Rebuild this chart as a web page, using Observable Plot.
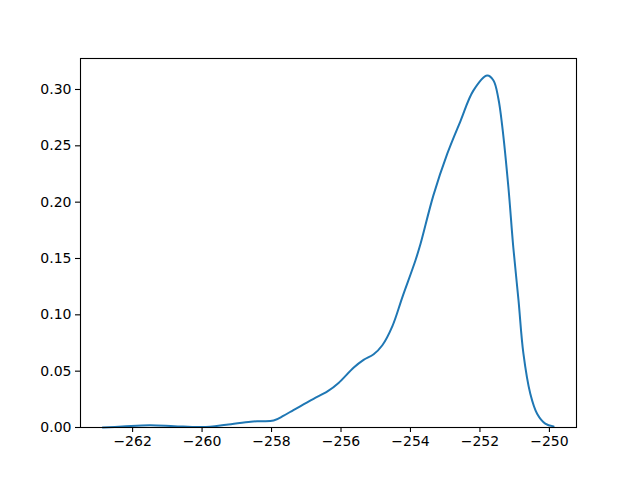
<!DOCTYPE html>
<html>
<head>
<meta charset="utf-8">
<script src="https://cdn.jsdelivr.net/npm/d3@7"></script>
<script src="https://cdn.jsdelivr.net/npm/@observablehq/plot@0.6"></script>
<style>
  body { margin: 0; background: white; }
  #chart { width: 640px; height: 480px; }
</style>
</head>
<body>
<div id="chart"></div>
<script>
const xs = [-262.86, -262.3, -261.51, -260.8, -259.99, -259.3, -258.6, -258.32, -257.94, -257.65, -257.37, -257.08, -256.79, -256.39, -256.07, -255.64, -255.35, -255.06, -254.81, -254.52, -254.23, -253.86, -253.71, -253.34, -252.94, -252.56, -252.19, -251.79, -251.61, -251.47, -251.36, -251.18, -251.04, -250.89, -250.75, -250.55, -250.35, -250.12, -249.88];
const densities = [0.0, 0.0008, 0.002, 0.0012, 0.0004, 0.0025, 0.0052, 0.0056, 0.0062, 0.0105, 0.0155, 0.0205, 0.0255, 0.032, 0.0395, 0.053, 0.060, 0.065, 0.073, 0.09, 0.116, 0.148, 0.163, 0.206, 0.243, 0.272, 0.299, 0.3124, 0.308, 0.292, 0.268, 0.213, 0.16, 0.113, 0.066, 0.030, 0.012, 0.0035, 0.001];
const xTicks = [-262, -260, -258, -256, -254, -252, -250];
const yTicks = [0, 0.05, 0.10, 0.15, 0.20, 0.25, 0.30];

const data = xs.map((x, i) => ({x, y: densities[i]}));

const chart = Plot.plot({
  width: 640,
  height: 480,
  marginLeft: 80,
  marginRight: 64,
  marginTop: 58,
  marginBottom: 53,
  style: {fontFamily: "DejaVu Sans", fontSize: "14px", color: "black", background: "white"},
  x: {domain: [-263.5, -249.22], label: null},
  y: {domain: [0, 0.3275], label: null},
  marks: [
    Plot.axisX({ticks: xTicks, tickSize: 5, tickPadding: 4, tickFormat: d3.format("d"), fontSize: 14, label: null, strokeWidth: 1.1}),
    Plot.axisY({ticks: yTicks, tickSize: 5, tickPadding: 4, tickFormat: d3.format(".2f"), fontSize: 14, label: null, strokeWidth: 1.1}),
    Plot.line(data, {x: "x", y: "y", stroke: "#1f77b4", strokeWidth: 2, curve: "catmull-rom"}),
    Plot.frame({stroke: "black", strokeWidth: 1.1})
  ]
});
document.getElementById("chart").appendChild(chart);
</script>
</body>
</html>
